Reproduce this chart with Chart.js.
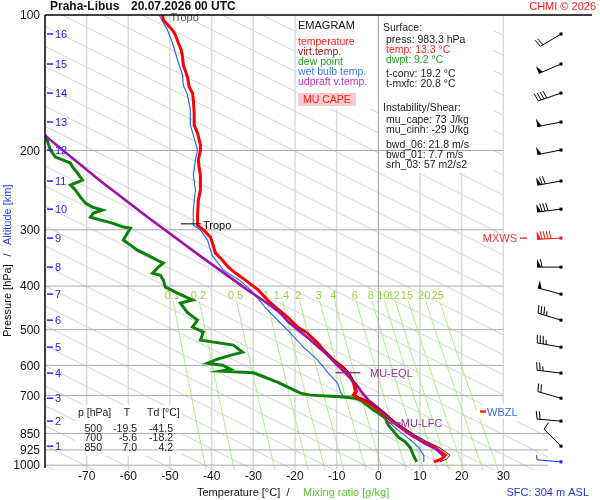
<!DOCTYPE html>
<html lang="en">
<head>
<meta charset="UTF-8">
<title>Emagram Praha-Libus</title>
<script src="https://cdn.jsdelivr.net/npm/chart.js"></script>
<style>
    html, body { margin: 0; padding: 0; background: #fff; }
    #wrap { width: 600px; height: 500px; }
</style>
</head>
<body>
<div id="wrap"><canvas id="emagram" width="600" height="500"></canvas></div>
<script>
// temperature profile [hPa] / [°C]
const tempP = [100, 102.6, 108, 110.8, 115.4, 119.6, 124, 129.2, 137.4, 144.5, 149.1, 154.5, 165.1, 175.6, 182.8, 194.4, 199.5, 210, 218.8, 226.8, 244.8, 257.7, 278.3, 292.9, 300.3, 311.4, 321.2, 338, 350.6, 363.1, 374.4, 388.1, 408.4, 429.7, 445.5, 468.8, 493.3, 508.8, 535.4, 554.6, 583.6, 604.6, 623.4, 656, 687, 697.6, 709.8, 716.4, 740, 765.6, 801.4, 828.4, 857.7, 888, 915.3, 950.2, 969.8, 983.3];
const tempT = [-51.8, -51.6, -49.4, -48.7, -48.0, -47.3, -47.0, -46.8, -45.8, -45.4, -44.6, -44.4, -44.2, -44.2, -43.4, -42.7, -42.7, -43.2, -43.0, -42.7, -42.7, -43.2, -43.4, -43.4, -42.0, -40.3, -39.8, -39.1, -37.4, -36.0, -34.3, -31.9, -28.8, -26.6, -24.7, -21.8, -19.4, -17.0, -14.6, -13.2, -10.8, -8.6, -7.2, -6.0, -5.5, -6.0, -4.8, -3.6, -1.2, 1.0, 3.4, 5.6, 7.9, 10.8, 13.7, 16.1, 15.1, 13.3];

// virtual temperature, lower part only (above it lies on the temperature)
const virtP = [493.3, 508.8, 535.4, 554.6, 583.6, 604.6, 623.4, 656, 687, 697.6, 709.8, 716.4, 740, 765.6, 801.4, 828.4, 857.7, 888, 915.3, 950.2, 969.8, 983.3];
const virtT = [-19.3, -16.9, -14.4, -13.0, -10.6, -8.3, -6.9, -5.6, -5.0, -5.5, -4.2, -3.0, -0.6, 1.7, 4.1, 6.4, 8.8, 11.8, 14.8, 17.2, 16.4, 14.8];

// dew point
const dewP = [184.8, 199.5, 206.8, 210, 213.2, 217.6, 224.4, 232.6, 238.7, 244.8, 253.8, 261.7, 267.1, 271.2, 275.4, 281.1, 285.4, 289.9, 295.9, 297.4, 305.1, 316.2, 324.5, 332.9, 341.5, 350.6, 355.7, 363.1, 374.4, 378.4, 388.1, 402.2, 414.7, 429.7, 436.5, 445.5, 458.6, 476.3, 493.3, 506.4, 527.5, 541.2, 560.9, 572.5, 583.6, 593.4, 599.5, 611.9, 618.2, 623.4, 653.9, 691.8, 698.9, 704.8, 709.8, 716.4, 754.6, 765.6, 786.1, 814.9, 836, 866.5, 888, 915.3, 950.2, 983.3];
const dewT = [-79.9, -78.7, -77.5, -75.6, -73.9, -73.4, -72.2, -71.0, -73.9, -72.7, -71.5, -70.3, -68.6, -66.2, -68.4, -69.1, -66.7, -63.8, -61.2, -59.5, -60.2, -61.2, -59.5, -57.8, -55.4, -53.0, -51.6, -52.8, -54.2, -52.3, -51.6, -51.1, -48.2, -44.6, -47.5, -46.8, -45.8, -43.4, -44.6, -42.0, -42.7, -34.8, -32.6, -36.2, -39.1, -41.0, -37.4, -35.5, -37.9, -30.0, -24.2, -18.7, -16.3, -9.1, -5.6, -4.2, -1.2, 0.0, 1.7, 2.4, 3.4, 4.8, 6.5, 7.7, 8.4, 9.2];

// wet bulb temperature
const wetP = [100, 108, 115.4, 125.9, 135.9, 143.1, 150.6, 162.6, 175.6, 184.8, 199.5, 210, 226.8, 244.8, 271.2, 292.9, 300.3, 316.2, 341.5, 368.8, 388.1, 408.4, 429.7, 445.5, 458.6, 508.8, 546.8, 583.6, 621.4, 657.3, 686.9, 704.8, 709.8, 724.4, 754.6, 794.3, 823.3, 848.9, 879.9, 912, 950.2, 983.3];
const wetT = [-52.6, -50.6, -49.4, -48.2, -47.0, -46.8, -45.8, -45.1, -45.1, -44.4, -43.4, -43.9, -44.4, -43.9, -44.4, -44.4, -42.7, -41.0, -39.9, -37.2, -33.3, -30.6, -28.6, -27.2, -25.9, -21.1, -18.0, -14.6, -12.2, -9.8, -9.1, -8.4, -6.0, -3.8, -0.8, 2.0, 3.9, 5.6, 7.8, 9.6, 10.9, 10.9];

// MU parcel (virtual temperature)
const parcelP = [174.7, 185.7, 232.6, 284.3, 343.2, 386.1, 406.4, 429.7, 447.9, 461.8, 481.1, 501.2, 522.2, 546.8, 569.5, 596.4, 618.2, 640.8, 667.5, 691.8, 716.4, 740, 770.1, 802.5, 831.8, 862.1, 893.5, 921.3, 955];
const parcelT = [-83.5, -79.9, -67.0, -54.7, -42.7, -35.0, -31.7, -27.8, -25.0, -23.3, -21.6, -19.2, -16.8, -14.4, -12.2, -10.1, -8.4, -6.7, -5.0, -3.8, -2.4, -0.5, 1.7, 3.8, 6.2, 8.6, 11.0, 13.9, 15.6];

// altitude marks [km] and the pressure they sit at, winds at the same levels
const altKm = [1, 2, 3, 4, 5, 6, 7, 8, 9, 10, 11, 12, 13, 14, 15, 16];
const altP = [907.3, 798.4, 710.1, 624.6, 546.8, 476.3, 416.9, 363.1, 313.0, 269.9, 233.8, 199.5, 172.9, 149.1, 128.5, 110.2];
const windDir = [315, 275, 286, 277, 280, 287, 285, 270, 267, 263, 260, 259, 259, 251, 247, 239];
const windKt = [10, 20, 20, 25, 35, 35, 50, 60, 90, 80, 70, 50, 50, 40, 50, 20];
const sfcP = 983.3, sfcDir = 275, sfcKt = 3;

// axes
const pressTicks = [100, 200, 300, 400, 500, 600, 700, 850, 925, 1000];
const tempTicks = [-70, -60, -50, -40, -30, -20, -10, 0, 10, 20, 30];
const mixRatios = [0.1, 0.2, 0.5, 1, 1.4, 2, 3, 4, 6, 8, 10, 12, 15, 20, 25];

// table of standard levels
const tableP = ['500', '700', '850'];
const tableT = ['-19.5', '-5.6', '7.0'];
const tableTd = ['-41.5', '-18.2', '4.2'];

const FONT = '"Liberation Sans", Arial, sans-serif';

function pairs(ps, ts) {
    return ps.map((p, i) => ({ x: ts[i], y: p }));
}

// pink CAPE patch: temperature on one side, parcel on the other
const capeShape = pairs(tempP, tempT).filter(d => d.y >= 650 && d.y <= 720)
    .concat(pairs(parcelP, parcelT).filter(d => d.y >= 650 && d.y <= 720).reverse());

function text(ctx, s, x, y, color, size, align, weight) {
    ctx.font = (weight || '') + ' ' + size + 'px ' + FONT;
    ctx.fillStyle = color;
    ctx.textAlign = align || 'left';
    ctx.textBaseline = 'middle';
    ctx.fillText(s, x, y);
}

function line(ctx, x1, y1, x2, y2, color, w) {
    ctx.strokeStyle = color;
    ctx.lineWidth = w;
    ctx.beginPath();
    ctx.moveTo(x1, y1);
    ctx.lineTo(x2, y2);
    ctx.stroke();
}

function dewFromMix(w, p) {
    const e = w * p / (622 + w);
    const l = Math.log(e / 6.112);
    return 243.5 * l / (17.67 - l);
}

function drawBarb(ctx, x0, y0, dir, spd, color) {
    const L = 24, r = dir * Math.PI / 180;
    const ux = Math.sin(r), uy = -Math.cos(r);
    const nx = -uy, ny = ux;
    const ex = x0 + ux * L, ey = y0 + uy * L;
    ctx.strokeStyle = color;
    ctx.fillStyle = color;
    ctx.lineWidth = 1;
    ctx.beginPath();
    ctx.moveTo(x0, y0);
    ctx.lineTo(ex, ey);
    ctx.stroke();
    ctx.fillRect(x0 - 1.5, y0 - 1.5, 3, 3);
    let s = Math.round(spd / 5) * 5, pos = 0;
    while (s >= 50) {
        ctx.beginPath();
        ctx.moveTo(ex - ux * pos, ey - uy * pos);
        ctx.lineTo(ex - ux * pos + nx * 8, ey - uy * pos + ny * 8);
        ctx.lineTo(ex - ux * (pos + 4), ey - uy * (pos + 4));
        ctx.closePath();
        ctx.fill();
        pos += 5;
        s -= 50;
    }
    while (s >= 10) {
        const bx = ex - ux * pos, by = ey - uy * pos;
        line(ctx, bx, by, bx + nx * 8 + ux * 1.5, by + ny * 8 + uy * 1.5, color, 1);
        pos += 3;
        s -= 10;
    }
    if (s >= 5) {
        const bx = ex - ux * pos, by = ey - uy * pos;
        line(ctx, bx, by, bx + nx * 4.5 + ux * 1, by + ny * 4.5 + uy * 1, color, 1);
    }
}

const emagramPlugin = {
    id: 'emagram',
    beforeDraw(chart) {
        const ctx = chart.ctx, a = chart.chartArea;
        const xs = chart.scales.x, ys = chart.scales.y;
        const x30 = xs.getPixelForValue(30), y800 = ys.getPixelForValue(800);
        ctx.save();
        ctx.fillStyle = '#fff';
        ctx.fillRect(0, 0, chart.width, chart.height);

        // thin grey diagonals (as drawn on this diagram: straight in T / ln p)
        ctx.save();
        ctx.beginPath();
        ctx.rect(a.left, a.top, x30 - a.left, y800 - a.top);
        ctx.rect(a.left, y800, a.right + 3 - a.left, a.bottom - y800);
        ctx.clip();
        for (let t0 = 44.6 - 9.6 * 15; t0 <= 270; t0 += 9.6) {
            const tTop = t0 + 94 * Math.log(100 / 1000);
            const tBot = t0 + 94 * Math.log(1030 / 1000);
            line(ctx, xs.getPixelForValue(tTop), ys.getPixelForValue(100),
                xs.getPixelForValue(tBot), ys.getPixelForValue(1030), '#d4d4d4', 1);
        }
        ctx.restore();

        // vertical grid
        tempTicks.forEach(t => {
            if (t === 0) return;
            const px = xs.getPixelForValue(t);
            line(ctx, px, a.top, px, a.bottom, '#d9d9d9', 1.5);
        });

        // mixing ratio lines
        ctx.save();
        ctx.beginPath();
        ctx.rect(a.left, a.top, a.right - a.left, a.bottom - a.top);
        ctx.clip();
        ctx.strokeStyle = '#a6f07c';
        ctx.lineWidth = 1;
        mixRatios.forEach(w => {
            ctx.beginPath();
            for (let p = 432; p <= 1030; p += 6) {
                const px = xs.getPixelForValue(dewFromMix(w, p)), py = ys.getPixelForValue(p);
                if (p === 432) ctx.moveTo(px, py); else ctx.lineTo(px, py);
            }
            ctx.stroke();
        });
        ctx.restore();
        const yLab = ys.getPixelForValue(421);
        mixRatios.forEach(w => {
            text(ctx, String(w), xs.getPixelForValue(dewFromMix(w, 421)), yLab, '#9ad23c', 11, 'center');
        });

        // white boxes
        ctx.fillStyle = '#fff';
        ctx.fillRect(297, 16, 81, 93);
        ctx.fillRect(378, 16, 115, 157);
        ctx.fillRect(75, 405, 106, 51);
        ctx.restore();
    },
    beforeDatasetsDraw(chart) {
        const ctx = chart.ctx, a = chart.chartArea;
        const xs = chart.scales.x, ys = chart.scales.y;
        ctx.save();
        pressTicks.forEach(p => {
            if (p === 100) return;
            const py = ys.getPixelForValue(p);
            const right = p >= 850 ? a.right + 3 : xs.getPixelForValue(30);
            line(ctx, a.left, py, right, py, '#a9a9a9', 1);
        });
        const x0 = xs.getPixelForValue(0);
        line(ctx, x0, a.top, x0, a.bottom, '#9c9c9c', 1);
        ctx.restore();
    },
    afterDraw(chart) {
        const ctx = chart.ctx, a = chart.chartArea;
        const xs = chart.scales.x, ys = chart.scales.y;
        ctx.save();

        // tropopause marks
        text(ctx, 'Tropo', xs.getPixelForValue(-46.5), a.top + 3, '#555', 11, 'center');
        const yTropo = ys.getPixelForValue(291);
        line(ctx, xs.getPixelForValue(-47.4), yTropo, xs.getPixelForValue(-42.6), yTropo, '#000', 1);
        text(ctx, 'Tropo', xs.getPixelForValue(-42.1), yTropo + 2, '#000', 11, 'left');

        // parcel levels
        const yEql = ys.getPixelForValue(623);
        line(ctx, xs.getPixelForValue(-10.3), yEql, xs.getPixelForValue(-4.3), yEql, '#993399', 1.5);
        text(ctx, 'MU-EQL', xs.getPixelForValue(-2.0), yEql + 1, '#993399', 11, 'left');
        const yLfc = ys.getPixelForValue(806);
        line(ctx, xs.getPixelForValue(1.7), yLfc, xs.getPixelForValue(5.3), yLfc, '#993399', 1.5);
        text(ctx, 'MU-LFC', xs.getPixelForValue(5.4), yLfc + 1, '#993399', 11, 'left');

        // frame
        line(ctx, a.left, a.top, 592, a.top, '#000', 1.5);
        line(ctx, a.left, a.top, a.left, a.bottom - 2, '#000', 1.5);

        // pressure axis
        pressTicks.forEach(p => {
            text(ctx, String(p), 40, ys.getPixelForValue(p) + 1, '#111', 12, 'right');
        });
        // altitude axis
        altKm.forEach((k, i) => {
            const py = ys.getPixelForValue(altP[i]);
            line(ctx, 47, py, 53, py, '#2222ff', 1.5);
            text(ctx, String(k), 55, py + 1, '#2222ff', 11, 'left');
        });
        // temperature axis
        tempTicks.forEach(t => {
            text(ctx, String(t), xs.getPixelForValue(t), 477, '#111', 12, 'center');
        });

        // axis titles
        text(ctx, 'Temperature [°C]', 197, 493, '#111', 11, 'left');
        text(ctx, '/', 288, 493, '#111', 11, 'center');
        text(ctx, 'Mixing ratio [g/kg]', 303, 493, '#5cc42e', 11, 'left');
        ctx.save();
        ctx.translate(8, 337);
        ctx.rotate(-Math.PI / 2);
        text(ctx, 'Pressure [hPa]', 0, 0, '#111', 11, 'left');
        text(ctx, '/', 82, 0, '#111', 11, 'center');
        text(ctx, 'Altitude [km]', 92, 0, '#2b3bf0', 11, 'left');
        ctx.restore();

        // header
        text(ctx, 'Praha-Libus', 50, 7, '#111', 12, 'left', 'bold');
        text(ctx, '20.07.2026 00 UTC', 131, 7, '#111', 12, 'left', 'bold');
        text(ctx, 'CHMI © 2026', 596, 7, '#ff1a1a', 11, 'right');
        text(ctx, 'SFC: 304 m ASL', 589, 493, '#2233dd', 11, 'right');

        // legend box
        text(ctx, 'EMAGRAM', 298, 26, '#111', 11, 'left');
        text(ctx, 'temperature', 298, 42, '#ff2020', 10.5, 'left');
        text(ctx, 'virt.temp.', 298, 52, '#a01818', 10.5, 'left');
        text(ctx, 'dew point', 298, 62, '#20a020', 10.5, 'left');
        text(ctx, 'wet bulb temp.', 298, 72, '#3c78ff', 10.5, 'left');
        text(ctx, 'udpraft v.temp.', 298, 82, '#c030c0', 10.5, 'left');
        ctx.fillStyle = '#f8cccc';
        ctx.fillRect(298, 93, 58, 13);
        text(ctx, 'MU CAPE', 303, 100.5, '#ff2020', 10.5, 'left');

        // surface and instability box
        text(ctx, 'Surface:', 383, 28, '#222', 10.5, 'left');
        text(ctx, 'press: 983.3 hPa', 386, 40, '#222', 10.5, 'left');
        text(ctx, 'temp: 13.3 °C', 386, 50, '#ff2020', 10.5, 'left');
        text(ctx, 'dwpt: 9.2 °C', 386, 60, '#20a020', 10.5, 'left');
        text(ctx, 't-conv: 19.2 °C', 386, 74, '#222', 10.5, 'left');
        text(ctx, 't-mxfc: 20.8 °C', 386, 84, '#222', 10.5, 'left');
        text(ctx, 'Instability/Shear:', 383, 108, '#222', 10.5, 'left');
        text(ctx, 'mu_cape: 73 J/kg', 386, 120, '#222', 10.5, 'left');
        text(ctx, 'mu_cinh: -29 J/kg', 386, 130, '#222', 10.5, 'left');
        text(ctx, 'bwd_06: 21.8 m/s', 386, 145, '#222', 10.5, 'left');
        text(ctx, 'bwd_01: 7.7 m/s', 386, 155, '#222', 10.5, 'left');
        text(ctx, 'srh_03: 57 m2/s2', 386, 165, '#222', 10.5, 'left');

        // standard levels table
        text(ctx, 'p [hPa]', 78, 413, '#222', 10.5, 'left');
        text(ctx, 'T', 127, 413, '#222', 10.5, 'center');
        text(ctx, 'Td [°C]', 147, 413, '#222', 10.5, 'left');
        tableP.forEach((p, i) => {
            const ty = 429 + i * 9.5;
            text(ctx, p, 102, ty, '#222', 10.5, 'right');
            text(ctx, tableT[i], 137, ty, '#222', 10.5, 'right');
            text(ctx, tableTd[i], 173, ty, '#222', 10.5, 'right');
        });

        // wet bulb zero and max wind
        const yW = ys.getPixelForValue(760);
        ctx.fillStyle = '#fff';
        ctx.fillRect(477, yW - 7, 45, 14);
        line(ctx, 480, yW, 486, yW, '#ff2020', 2.5);
        text(ctx, 'WBZL', 487, yW + 1, '#3c6edc', 11, 'left');

        // wind barbs
        altP.forEach((p, i) => {
            const col = altKm[i] === 9 ? '#ff1010' : '#000';
            drawBarb(ctx, 561, ys.getPixelForValue(p), windDir[i], windKt[i], col);
        });
        drawBarb(ctx, 561, ys.getPixelForValue(sfcP), sfcDir, sfcKt, '#1030ee');
        const yM = ys.getPixelForValue(altP[altKm.indexOf(9)]);
        text(ctx, 'MXWS', 517, yM + 1, '#ff3030', 11, 'right');
        line(ctx, 520, yM, 527, yM, '#ff3030', 1.5);

        ctx.restore();
    }
};

new Chart(document.getElementById('emagram').getContext('2d'), {
    type: 'line',
    data: {
        datasets: [
            {
                label: 'MU CAPE',
                data: capeShape,
                borderWidth: 0,
                borderColor: 'rgba(0,0,0,0)',
                backgroundColor: 'rgba(250,190,190,0.8)',
                fill: 'shape',
                order: 10
            },
            {
                label: 'wet bulb temp.',
                data: pairs(wetP, wetT),
                borderColor: '#2a6cf0',
                borderWidth: 1.2,
                fill: false,
                order: 5
            },
            {
                label: 'dew point',
                data: pairs(dewP, dewT),
                borderColor: '#0a820a',
                borderWidth: 3,
                fill: false,
                order: 4
            },
            {
                label: 'temperature',
                data: pairs(tempP, tempT),
                borderColor: '#ff0000',
                borderWidth: 3,
                fill: false,
                order: 3
            },
            {
                label: 'udpraft v.temp.',
                data: pairs(parcelP, parcelT),
                borderColor: '#a010a8',
                borderWidth: 2.6,
                fill: false,
                order: 2
            },
            {
                label: 'virt.temp.',
                data: pairs(virtP, virtT),
                borderColor: '#8a0000',
                borderWidth: 1,
                fill: false,
                order: 1
            }
        ]
    },
    options: {
        responsive: false,
        animation: false,
        layout: { padding: { left: 45, top: 15, right: 55, bottom: 30 } },
        elements: { point: { radius: 0 }, line: { tension: 0 } },
        plugins: { legend: { display: false }, tooltip: { enabled: false } },
        scales: {
            x: { type: 'linear', min: -80, max: 40, display: false },
            y: { type: 'logarithmic', min: 100, max: 1025, reverse: true, display: false }
        }
    },
    plugins: [emagramPlugin]
});
</script>
</body>
</html>
